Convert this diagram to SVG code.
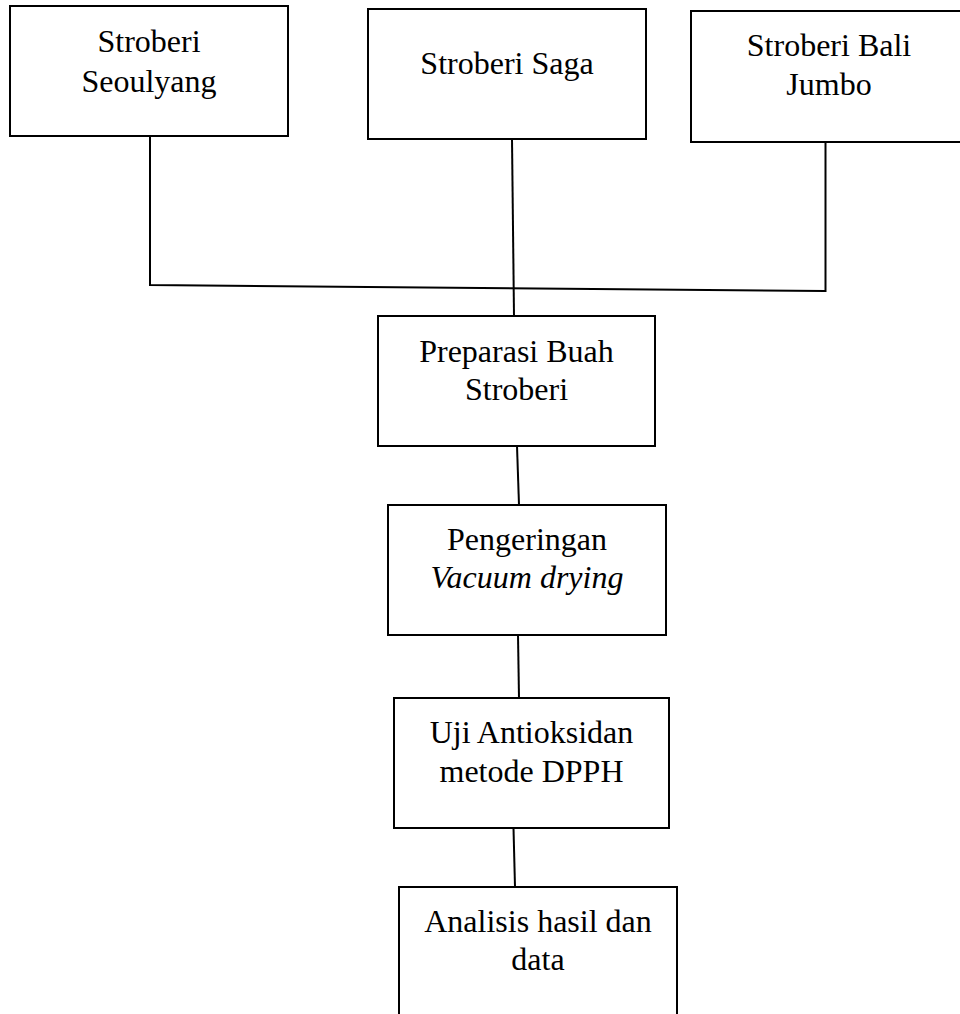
<svg xmlns="http://www.w3.org/2000/svg" width="960" height="1014" viewBox="0 0 960 1014">
<style>
.box{fill:#fff;stroke:#000;stroke-width:2}
.ln{fill:none;stroke:#000;stroke-width:2}
text{font-family:"Liberation Serif","Times New Roman",serif;font-size:32px;fill:#000;text-anchor:middle}
.it{font-style:italic}
</style>
<rect width="960" height="1014" fill="#fff"/>
<g id="connectors">
<polyline class="ln" points="150,136 150,285 825,291"/>
<line class="ln" x1="825.5" y1="142" x2="825.5" y2="292"/>
<line class="ln" x1="512" y1="139" x2="514" y2="316"/>
<line class="ln" x1="517" y1="446" x2="519" y2="505"/>
<line class="ln" x1="518" y1="635" x2="519" y2="698"/>
<line class="ln" x1="513.5" y1="828" x2="515" y2="887"/>
</g>
<g id="n1"><rect class="box" x="10" y="6" width="278" height="130"/><text x="149" y="52">Stroberi</text><text x="149" y="92">Seoulyang</text></g>
<g id="n2"><rect class="box" x="368" y="9" width="278" height="130"/><text x="507" y="74">Stroberi Saga</text></g>
<g id="n3"><rect class="box" x="691" y="11" width="276" height="131"/><text x="829" y="56">Stroberi Bali</text><text x="829" y="95">Jumbo</text></g>
<g id="n4"><rect class="box" x="378" y="316" width="277" height="130"/><text x="516.5" y="362">Preparasi Buah</text><text x="516.5" y="400">Stroberi</text></g>
<g id="n5"><rect class="box" x="388" y="505" width="278" height="130"/><text x="527" y="550">Pengeringan</text><text class="it" x="527" y="588">Vacuum drying</text></g>
<g id="n6"><rect class="box" x="394" y="698" width="275" height="130"/><text x="531.5" y="743">Uji Antioksidan</text><text x="531.5" y="782">metode DPPH</text></g>
<g id="n7"><rect class="box" x="399" y="887" width="278" height="140"/><text x="538" y="932">Analisis hasil dan</text><text x="538" y="970">data</text></g>
</svg>
